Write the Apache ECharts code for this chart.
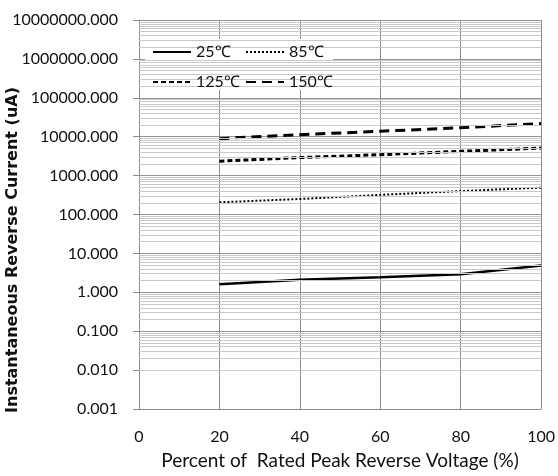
<!DOCTYPE html>
<html><head><meta charset="utf-8">
<script src="https://cdn.jsdelivr.net/npm/echarts@6/dist/echarts.min.js"></script>
<style>html,body{margin:0;padding:0;background:#fff}#c{width:558px;height:476px}</style>
</head><body><div id="c"></div>
<script>
const xValues = [20, 40, 60, 80, 100];
const seriesNames = ['25℃', '85℃', '125℃', '150℃'];
const t25 = [1.6, 2.1, 2.45, 2.9, 4.9];
const t85 = [205, 250, 320, 400, 490];
const t125 = [2350, 2900, 3450, 4200, 5100];
const t150 = [8900, 11300, 13800, 17000, 21800];
const yMin = 0.001, yMax = 10000000;
const xTitle = 'Percent of  Rated Peak Reverse Voltage (%)';
const yTitle = 'Instantaneous Reverse Current (uA)';

const FONT = 'Lato';
const minorLines = [];
for (let e = -3; e <= 6; e++) {
  for (let k = 2; k <= 9; k++) minorLines.push({ yAxis: k * Math.pow(10, e) });
}
function pairs(arr) { return xValues.map((x, i) => [x, arr[i]]); }

const legendCommon = {
  orient: 'vertical', itemWidth: 38, itemHeight: 14, itemGap: 14, padding: 0, z: 10,
  itemStyle: { opacity: 0, color: 'transparent', borderWidth: 0 },
  textStyle: { fontFamily: FONT, fontSize: 16, color: '#111' }
};

const chart = echarts.init(document.getElementById('c'), null, { renderer: 'canvas' });
chart.setOption({
  animation: false,
  backgroundColor: '#fff',
  textStyle: { fontFamily: FONT },
  grid: { left: 139, right: 14, top: 20, bottom: 67, containLabel: false },
  xAxis: {
    type: 'value', min: 0, max: 100, interval: 20,
    name: xTitle, nameLocation: 'middle', nameGap: 42,
    nameTextStyle: { fontFamily: FONT, fontSize: 19, color: '#111' },
    axisLine: { show: true, lineStyle: { color: '#8c8c8c', width: 1 } },
    axisTick: { show: false },
    axisLabel: { margin: 20, fontFamily: FONT, fontSize: 16, color: '#111' },
    splitLine: { show: true, lineStyle: { color: '#8c8c8c', width: 1 } }
  },
  yAxis: {
    type: 'log', logBase: 10, min: yMin, max: yMax, interval: 1, splitNumber: 10,
    axisLine: { show: true, onZero: false, lineStyle: { color: '#8c8c8c', width: 1 } },
    axisTick: { show: true, inside: false, length: 6, lineStyle: { color: '#8c8c8c' } },
    axisLabel: {
      margin: 21, fontFamily: FONT, fontSize: 16, color: '#111', hideOverlap: false,
      formatter: v => Number(v).toFixed(3)
    },
    splitLine: { show: true, lineStyle: { color: '#959595', width: 1 } }
  },
  legend: [
    Object.assign({ data: [seriesNames[0], seriesNames[2]], left: 152, top: 44 }, legendCommon),
    Object.assign({ data: [seriesNames[1], seriesNames[3]], left: 245, top: 44 }, legendCommon)
  ],
  graphic: [
    { type: 'rect', left: 145, top: 39, z: 5, shape: { width: 188, height: 51 }, style: { fill: '#fff' } },
    {
      type: 'text', z: 10, x: 13, y: 250, rotation: Math.PI / 2,
      style: { text: yTitle, fontFamily: 'DejaVu Sans', fontSize: 16, fontWeight: 'bold', fill: '#111', align: 'center', verticalAlign: 'middle' }
    }
  ],
  series: [
    {
      name: '__minor', type: 'line', data: [], silent: true, z: 1,
      markLine: {
        silent: true, symbol: 'none', animation: false,
        label: { show: false },
        lineStyle: { color: '#c8c8c8', width: 1, type: 'solid' },
        emphasis: { disabled: true },
        data: minorLines
      }
    },
    { name: seriesNames[0], type: 'line', data: pairs(t25), showSymbol: false, symbol: 'none', z: 3,
      lineStyle: { color: '#000', width: 2.5, type: 'solid' }, itemStyle: { color: '#000' } },
    { name: seriesNames[1], type: 'line', data: pairs(t85), showSymbol: false, symbol: 'none', z: 3,
      lineStyle: { color: '#000', width: 2, type: [2, 2] }, itemStyle: { color: '#000' } },
    { name: seriesNames[2], type: 'line', data: pairs(t125), showSymbol: false, symbol: 'none', z: 3,
      lineStyle: { color: '#000', width: 3, type: [5, 3] }, itemStyle: { color: '#000' } },
    { name: seriesNames[3], type: 'line', data: pairs(t150), showSymbol: false, symbol: 'none', z: 3,
      lineStyle: { color: '#000', width: 3, type: [10, 6] }, itemStyle: { color: '#000' } }
  ]
});
</script></body></html>
